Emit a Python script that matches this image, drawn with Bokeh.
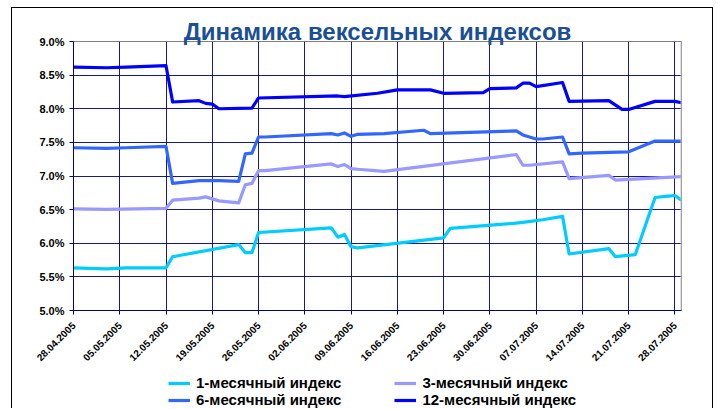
import math
import pandas as pd
from bokeh.plotting import figure
from bokeh.layouts import column
from bokeh.models import (FixedTicker, DatetimeTickFormatter, PrintfTickFormatter,
                          Legend, LegendItem, Range1d, Span)
from bokeh.embed import file_html
from bokeh.resources import INLINE

# ---------------- data ----------------
m1_dates = ["28.04.2005", "03.05.2005", "06.05.2005", "12.05.2005", "13.05.2005", "23.05.2005",
            "24.05.2005", "25.05.2005", "26.05.2005", "06.06.2005", "07.06.2005", "08.06.2005",
            "09.06.2005", "10.06.2005", "22.06.2005", "23.06.2005", "24.06.2005", "04.07.2005",
            "05.07.2005", "08.07.2005", "11.07.2005", "12.07.2005", "18.07.2005", "19.07.2005",
            "22.07.2005", "25.07.2005", "27.07.2005", "28.07.2005", "29.07.2005"]
m1_vals = [5.635, 5.62, 5.635, 5.635, 5.80, 5.98,
           5.86, 5.86, 6.16, 6.23, 6.09, 6.13,
           5.95, 5.93, 6.07, 6.08, 6.22, 6.30,
           6.31, 6.35, 6.40, 5.84, 5.92, 5.80,
           5.83, 6.68, 6.70, 6.71, 6.64]

m3_dates = ["28.04.2005", "03.05.2005", "12.05.2005", "13.05.2005", "17.05.2005", "18.05.2005",
            "19.05.2005", "20.05.2005", "23.05.2005", "24.05.2005", "25.05.2005", "26.05.2005",
            "27.05.2005", "06.06.2005", "07.06.2005", "08.06.2005", "09.06.2005", "10.06.2005",
            "14.06.2005", "04.07.2005", "05.07.2005", "06.07.2005", "11.07.2005", "12.07.2005",
            "18.07.2005", "19.07.2005", "29.07.2005"]
m3_vals = [6.51, 6.505, 6.52, 6.64, 6.67, 6.69,
           6.66, 6.63, 6.60, 6.87, 6.89, 7.08,
           7.08, 7.18, 7.14, 7.17, 7.11, 7.10,
           7.07, 7.32, 7.16, 7.16, 7.21, 6.96,
           7.01, 6.94, 6.99]

m6_dates = ["28.04.2005", "03.05.2005", "06.05.2005", "12.05.2005", "13.05.2005", "17.05.2005",
            "20.05.2005", "23.05.2005", "24.05.2005", "25.05.2005", "26.05.2005", "27.05.2005",
            "06.06.2005", "07.06.2005", "08.06.2005", "09.06.2005", "10.06.2005", "14.06.2005",
            "20.06.2005", "21.06.2005", "04.07.2005", "05.07.2005", "07.07.2005", "08.07.2005",
            "11.07.2005", "12.07.2005", "14.07.2005", "21.07.2005", "25.07.2005", "29.07.2005"]
m6_vals = [7.42, 7.41, 7.42, 7.44, 6.89, 6.93,
           6.93, 6.92, 7.33, 7.34, 7.58, 7.58,
           7.63, 7.61, 7.64, 7.59, 7.62, 7.63,
           7.68, 7.63, 7.67, 7.61, 7.55, 7.55,
           7.58, 7.33, 7.34, 7.36, 7.52, 7.52]

m12_dates = ["28.04.2005", "03.05.2005", "06.05.2005", "12.05.2005", "13.05.2005", "17.05.2005",
             "18.05.2005", "19.05.2005", "20.05.2005", "25.05.2005", "26.05.2005", "07.06.2005",
             "08.06.2005", "13.06.2005", "16.06.2005", "21.06.2005", "23.06.2005", "29.06.2005",
             "30.06.2005", "04.07.2005", "05.07.2005", "06.07.2005", "07.07.2005", "11.07.2005",
             "12.07.2005", "18.07.2005", "20.07.2005", "21.07.2005", "25.07.2005", "28.07.2005",
             "29.07.2005"]
m12_vals = [8.62, 8.61, 8.62, 8.64, 8.10, 8.12,
            8.08, 8.07, 8.00, 8.01, 8.16, 8.19,
            8.18, 8.23, 8.28, 8.28, 8.23, 8.24,
            8.30, 8.31, 8.38, 8.38, 8.33, 8.39,
            8.11, 8.12, 7.99, 7.99, 8.11, 8.11,
            8.09]

series_names = ["1-месячный индекс", "3-месячный индекс", "6-месячный индекс", "12-месячный индекс"]
series_colors = ["#00CCFF", "#9999FF", "#3366FF", "#0000FF"]

tick_labels = ["28.04.2005", "05.05.2005", "12.05.2005", "19.05.2005", "26.05.2005",
               "02.06.2005", "09.06.2005", "16.06.2005", "23.06.2005", "30.06.2005",
               "07.07.2005", "14.07.2005", "21.07.2005", "28.07.2005"]
y_ticks = [5.0, 5.5, 6.0, 6.5, 7.0, 7.5, 8.0, 8.5, 9.0]
x_start, x_end = "28.04.2005", "29.07.2005"
title_text = "Динамика вексельных индексов"


def to_dt(lst):
    return pd.to_datetime(lst, format="%d.%m.%Y")


FONT = "Liberation Sans"
NAVY = "#000080"
all_series = [(m1_dates, m1_vals), (m3_dates, m3_vals), (m6_dates, m6_vals), (m12_dates, m12_vals)]

p = figure(width=700, height=366, x_axis_type="datetime",
           output_backend="svg", toolbar_location=None,
           x_range=Range1d(to_dt([x_start])[0], to_dt([x_end])[0]),
           y_range=Range1d(5.0, 9.0),
           min_border_left=61, min_border_right=31, min_border_top=33, min_border_bottom=64,
           background_fill_color="white", border_fill_color="white")

p.title.text = title_text
p.title.align = "center"
p.title.text_font = FONT
p.title.text_font_style = "bold"
p.title.text_font_size = "24px"
p.title.text_color = "#1B4F93"
p.title.standoff = -6
p.title.offset = -4

for (dates, vals), color in zip(all_series, series_colors):
    p.line(to_dt(dates), vals, line_color=color, line_width=3.2, line_join="round")

# axes
tick_ms = [t.value / 1e6 for t in to_dt(tick_labels)]
p.xaxis.ticker = FixedTicker(ticks=tick_ms)
fmt = "%d.%m.%Y"
p.xaxis.formatter = DatetimeTickFormatter(days=fmt, months=fmt, years=fmt, hours=fmt,
                                          hourmin=fmt, minutes=fmt, minsec=fmt,
                                          seconds=fmt, milliseconds=fmt, microseconds=fmt)
p.xaxis.major_label_orientation = math.pi / 4
p.yaxis.ticker = FixedTicker(ticks=y_ticks)
p.yaxis.formatter = PrintfTickFormatter(format="%.1f%%")

for ax in (p.xaxis, p.yaxis):
    ax.axis_line_color = NAVY
    ax.major_tick_line_color = NAVY
    ax.major_tick_out = 4
    ax.major_tick_in = 0
    ax.minor_tick_line_color = None
    ax.major_label_text_font = FONT
    ax.major_label_text_font_style = "bold"
    ax.major_label_text_color = "#000000"
p.yaxis.major_label_text_font_size = "11px"
p.xaxis.major_label_text_font_size = "10px"
p.yaxis.major_label_standoff = 5
p.xaxis.major_label_standoff = 9

p.xgrid.grid_line_color = NAVY
p.ygrid.grid_line_color = NAVY
p.xgrid.grid_line_alpha = 0.9
p.ygrid.grid_line_alpha = 0.9
p.outline_line_color = "#808080"

p.add_layout(Span(location=tick_ms[-1] + 86400000.0, dimension="height",
                  line_color="#C0C0C0", line_width=2))

# legend strip: a second, axis-less figure carrying the legend.
# Its sample renderers hold the same series but lie outside its 0..1 ranges, so only
# the legend samples show.
lg = figure(width=700, height=34, output_backend="svg", toolbar_location=None,
            x_axis_location=None, y_axis_location=None,
            x_range=Range1d(0, 1), y_range=Range1d(0, 1),
            min_border_left=0, min_border_right=0, min_border_top=0, min_border_bottom=0,
            outline_line_color=None, background_fill_color="white", border_fill_color="white")
lg.xgrid.visible = False
lg.ygrid.visible = False
samples = [lg.line(to_dt(dates), vals, line_color=c, line_width=3.2)
           for (dates, vals), c in zip(all_series, series_colors)]

common = dict(orientation="horizontal", border_line_color=None, background_fill_alpha=0,
              label_text_font=FONT, label_text_font_style="bold", label_text_font_size="15px",
              label_text_color="#000000", glyph_width=22, glyph_height=14, label_standoff=6,
              spacing=53, padding=0, margin=0, label_height=14)
leg1 = Legend(items=[LegendItem(label=series_names[0], renderers=[samples[0]]),
                     LegendItem(label=series_names[1], renderers=[samples[1]])],
              location=(95, 17), **common)
leg2 = Legend(items=[LegendItem(label=series_names[2], renderers=[samples[2]]),
                     LegendItem(label=series_names[3], renderers=[samples[3]])],
              location=(95, 0), **common)
lg.add_layout(leg1, "center")
lg.add_layout(leg2, "center")

layout = column(p, lg, spacing=0,
                styles={"border-left": "1px solid #000", "border-top": "1px solid #000",
                        "border-right": "1px solid #000", "margin-left": "11px",
                        "margin-top": "7px"})

open("out.html", "w").write(file_html(layout, INLINE))
